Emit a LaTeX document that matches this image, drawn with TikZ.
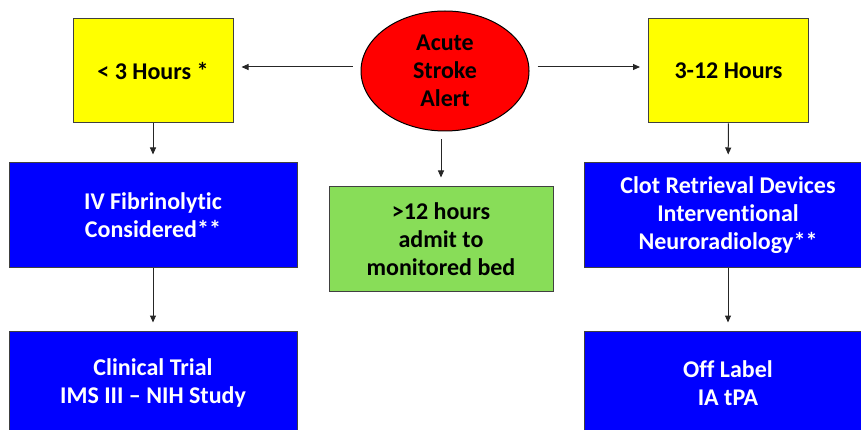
\documentclass[tikz,border=0pt]{standalone}
\usepackage{fontspec}
\setmainfont{Carlito}[Ligatures=NoCommon]
\usetikzlibrary{shapes.geometric,arrows.meta}

\definecolor{alertred}{RGB}{255,0,0}
\definecolor{hourbox}{RGB}{255,255,0}
\definecolor{treatblue}{RGB}{0,0,255}
\definecolor{admitgreen}{RGB}{136,221,88}
\definecolor{edge}{RGB}{64,64,64}

\begin{document}
\begin{tikzpicture}[x=1pt,y=-1pt,
	box/.style={draw=edge, line width=1pt, align=center, inner sep=0pt,
		font=\fontsize{24}{28}\selectfont\bfseries},
	hourbox/.style={box, fill=hourbox, minimum width=160pt, minimum height=104pt},
	treatbox/.style={box, fill=treatblue, text=white, minimum width=288pt, minimum height=104pt},
	arr/.style={-{Triangle[length=7pt,width=6pt]}, line width=1pt, color=black!85}]
\useasboundingbox (0,0) rectangle (861,430);

% start
\node [box, ellipse, draw=black, fill=alertred, minimum width=168pt, minimum height=120pt] (alert) at (445,71) {Acute\\Stroke\\Alert};

% time windows
\node [hourbox] (early) at (153,71) {< 3 Hours *};
\node [hourbox] (late) at (728.5,71) {3-12 Hours};
\node [box, fill=admitgreen, minimum width=224pt, minimum height=104pt] (admit) at (441,239) {>12 hours\\admit to\\monitored bed};

% treatments
\node [treatbox] (ivfib) at (153,215) {IV Fibrinolytic\\Considered**};
\node [treatbox] (trial) at (153,383) {Clinical Trial\\IMS III -- NIH Study};
\node [treatbox] (clot) at (728,215) {Clot Retrieval Devices\\Interventional\\Neuroradiology**};
\node [treatbox] (offlabel) at (728,383) {Off Label\\IA tPA};

\draw[arr, shorten <=8pt, shorten >=8pt] ([yshift=4pt]alert.west) -- ([yshift=4pt]early.east);
\draw[arr, shorten <=8pt, shorten >=8pt] ([yshift=4pt]alert.east) -- ([yshift=4pt]late.west);
\draw[arr, shorten <=8pt, shorten >=9pt] (alert.south -| admit.north) -- (admit.north);

\draw[arr, shorten >=8pt] (early) -- (ivfib);
\draw[arr, shorten >=8pt] (ivfib) -- (trial);
\draw[arr, shorten >=8pt] (late) -- (clot);
\draw[arr, shorten >=8pt] (clot) -- (offlabel);
\end{tikzpicture}
\end{document}
